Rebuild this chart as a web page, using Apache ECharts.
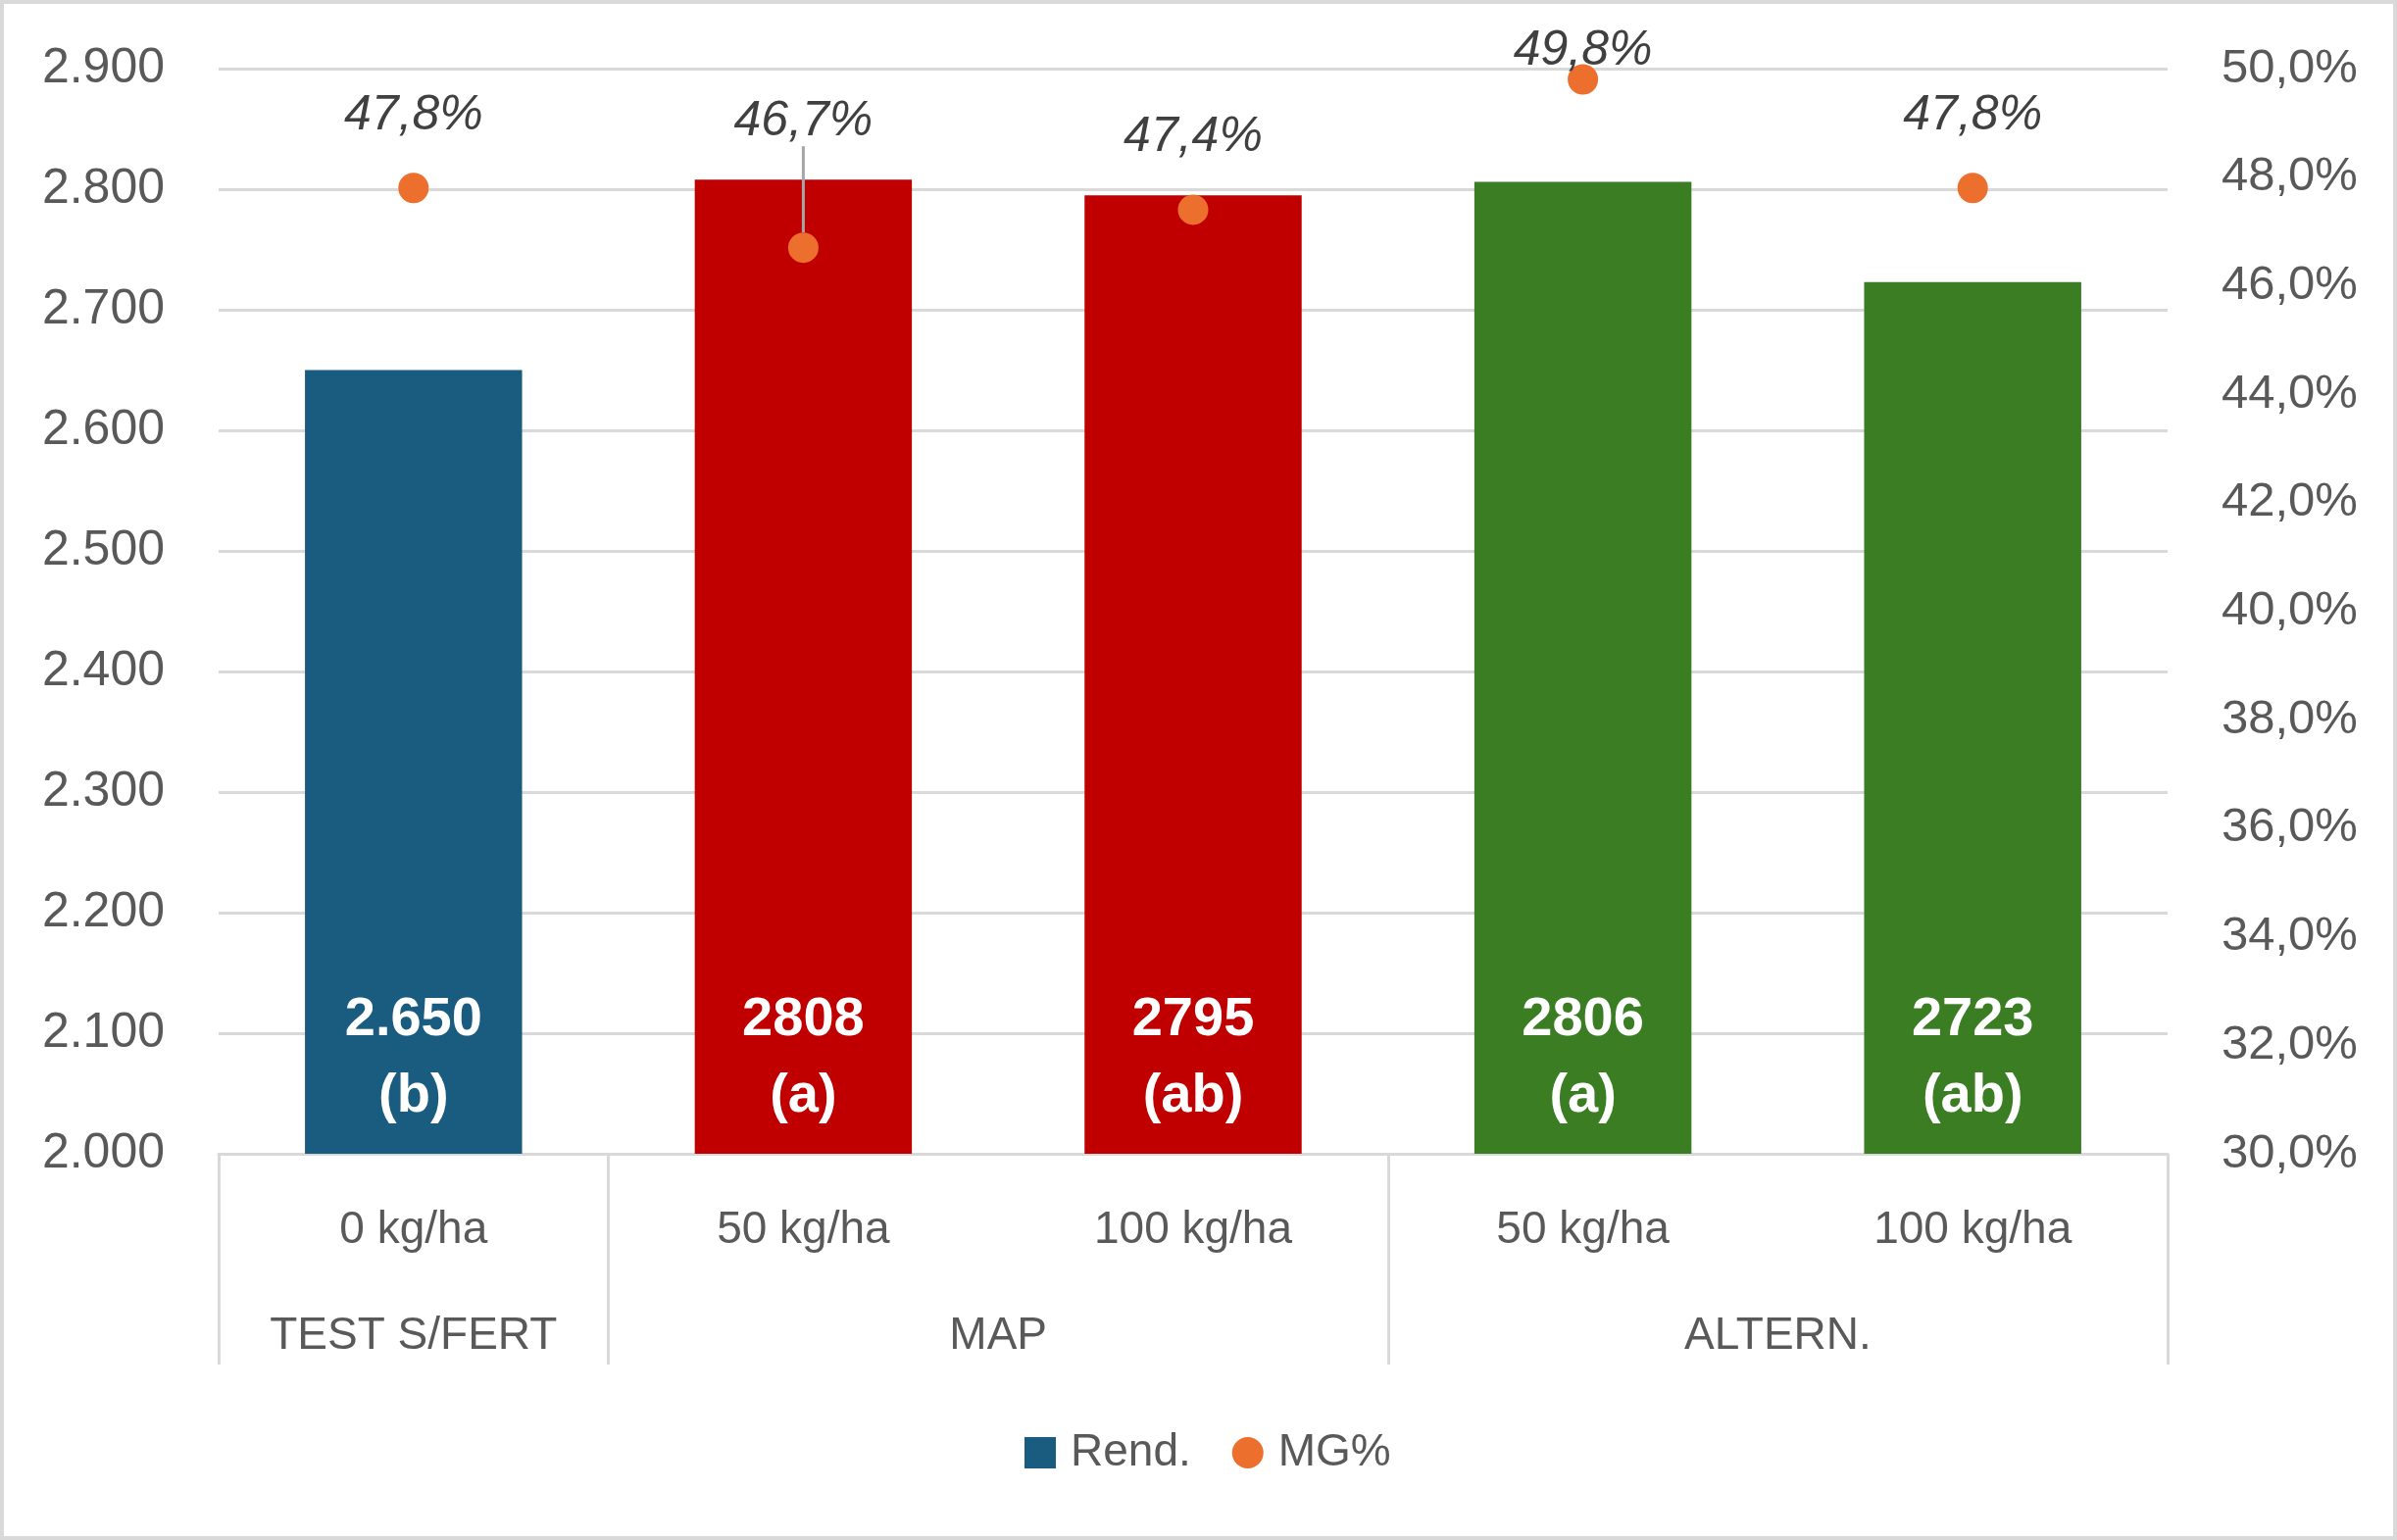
<!DOCTYPE html>
<html>
<head>
<meta charset="utf-8">
<script src="https://cdn.jsdelivr.net/npm/echarts@6/dist/echarts.min.js"></script>
<style>
html,body{margin:0;padding:0;background:#fff;}
#c{width:2445px;height:1571px;box-sizing:border-box;border:4px solid #d9d9d9;background:#fff;}
</style>
</head>
<body>
<div id="c"></div>
<script>
const categories = ['0 kg/ha', '50 kg/ha', '100 kg/ha', '50 kg/ha', '100 kg/ha'];
const groups = ['TEST S/FERT', 'MAP', 'ALTERN.'];
const groupBounds = [0, 1, 3, 5];
const groupCenters = [0.5, 2, 4];
const rend = [2650, 2808, 2795, 2806, 2723];
const rendLabels = ['2.650', '2808', '2795', '2806', '2723'];
const letters = ['(b)', '(a)', '(ab)', '(a)', '(ab)'];
const mg = [47.8, 46.7, 47.4, 49.8, 47.8];
const barColors = ['#1a5c80', '#c00000', '#c00000', '#3b7d23', '#3b7d23'];

const FONT = "'Liberation Sans', Arial, sans-serif";
const GRAY = '#595959';
const GRID = '#d9d9d9';

const chart = echarts.init(document.getElementById('c'), null, {renderer: 'canvas'});

const fmtThousands = v => {
  const s = String(Math.round(v));
  return s.replace(/\B(?=(\d{3})+(?!\d))/g, '.');
};
const fmtPct = v => v.toFixed(1).replace('.', ',') + '%';

chart.setOption({
  backgroundColor: '#fff',
  animation: false,
  textStyle: {fontFamily: FONT},
  grid: {left: 219, right: 230, top: 66, bottom: 390, containLabel: false},
  legend: {
    left: 1036, top: 1450,
    itemWidth: 32, itemHeight: 32, itemGap: 42,
    textStyle: {fontSize: 46, color: GRAY, fontFamily: FONT, padding: [0, 0, 0, 10]},
    data: [{name: 'Rend.', icon: 'rect'}, {name: 'MG%', icon: 'circle'}]
  },
  xAxis: [
    {
      type: 'category', data: categories, gridIndex: 0, position: 'bottom',
      axisLine: {show: true, lineStyle: {color: GRID, width: 3}},
      axisTick: {show: false},
      axisLabel: {fontSize: 46, color: GRAY, margin: 55, fontFamily: FONT}
    },
    {
      type: 'value', min: 0, max: 5, gridIndex: 0, position: 'bottom', offset: 0,
      axisLine: {show: false},
      splitLine: {show: false},
      axisTick: {show: true, customValues: groupBounds, length: 215, lineStyle: {color: GRID, width: 3}},
      axisLabel: {
        show: true, customValues: groupCenters, margin: 163, fontSize: 46, color: GRAY, fontFamily: FONT,
        formatter: v => groups[groupCenters.indexOf(v)]
      }
    }
  ],
  yAxis: [
    {
      type: 'value', min: 2000, max: 2900, interval: 100,
      axisLine: {show: false}, axisTick: {show: false},
      splitLine: {show: true, lineStyle: {color: GRID, width: 3}},
      axisLabel: {fontSize: 50, color: GRAY, margin: 55, fontFamily: FONT, formatter: fmtThousands}
    },
    {
      type: 'value', min: 30, max: 50, interval: 2, position: 'right',
      axisLine: {show: false}, axisTick: {show: false},
      splitLine: {show: false},
      axisLabel: {fontSize: 49, color: GRAY, margin: 55, fontFamily: FONT, formatter: fmtPct}
    }
  ],
  series: [
    {
      name: 'Rend.', type: 'bar', xAxisIndex: 0, yAxisIndex: 0,
      barWidth: '55.7%',
      itemStyle: {color: barColors[0]},
      data: rend.map((v, i) => ({value: v, itemStyle: {color: barColors[i]}})),
      label: {
        show: true, position: 'insideBottom', distance: 19,
        color: '#fff', fontSize: 56, fontWeight: 'bold', fontFamily: FONT,
        lineHeight: 78,
        formatter: p => rendLabels[p.dataIndex] + '\n' + letters[p.dataIndex]
      }
    },
    {
      name: 'MG%', type: 'scatter', xAxisIndex: 0, yAxisIndex: 1,
      symbol: 'circle', symbolSize: 31,
      itemStyle: {color: '#ec6f2d', opacity: 1},
      data: mg.map((v, i) => {
        const d = {value: v};
        if (i === 1) d.labelLine = {show: true, lineStyle: {color: '#a6a6a6', width: 3}};
        if (i === 3) d.label = {distance: -12};
        return d;
      }),
      label: {
        show: true, position: 'top', distance: 33,
        color: '#404040', fontSize: 50, fontStyle: 'italic', fontFamily: FONT,
        formatter: p => fmtPct(p.value)
      },
      labelLayout: p => (p.dataIndex === 1 ? {dy: -55} : {}),
      labelLine: {show: false, lineStyle: {color: '#a6a6a6', width: 3}}
    }
  ]
});
</script>
</body>
</html>
